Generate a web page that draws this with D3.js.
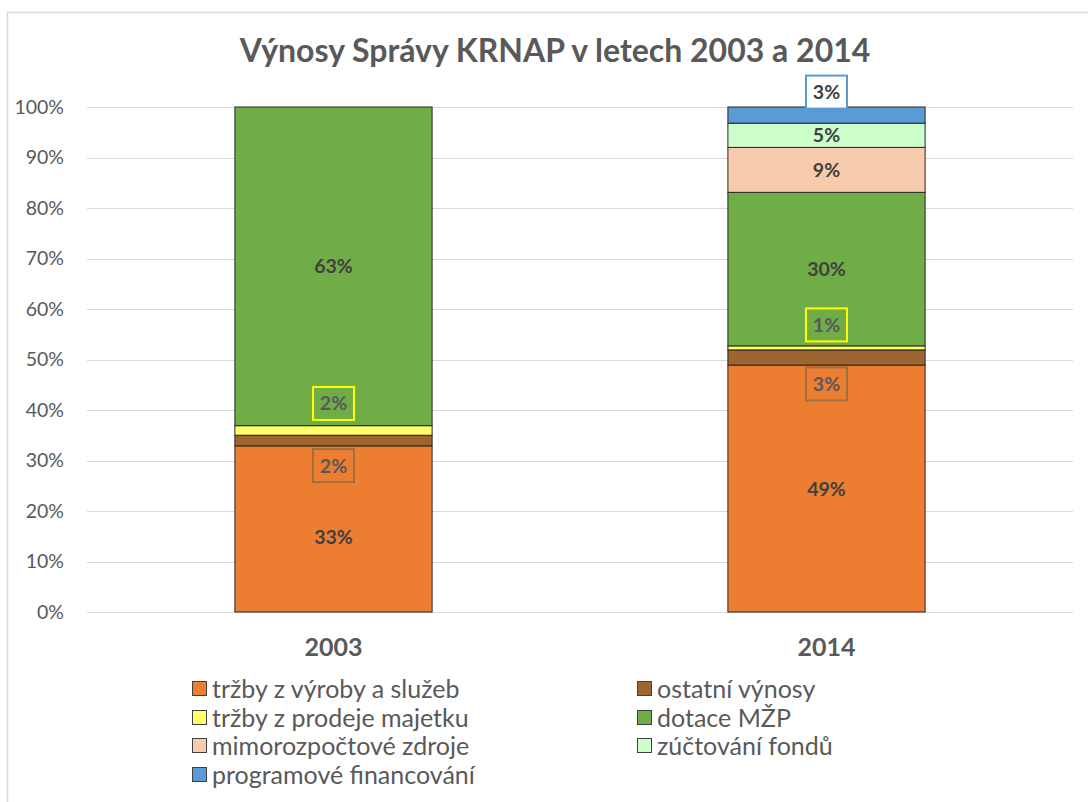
<!DOCTYPE html>
<html>
<head>
<meta charset="utf-8">
<script src="https://cdn.jsdelivr.net/npm/d3@7"></script>
<style>
  html, body { margin: 0; padding: 0; background: #fff; }
  svg { display: block; }
  text { font-family: Lato, "Open Sans", sans-serif; }
</style>
</head>
<body>
<svg id="chart" width="1088" height="802"></svg>
<script>
// ---- data ----
const title = "Výnosy Správy KRNAP v letech 2003 a 2014";
const categories = ["2003", "2014"];
const seriesNames = [
  "tržby z výroby a služeb",
  "ostatní výnosy",
  "tržby z prodeje majetku",
  "dotace MŽP",
  "mimorozpočtové zdroje",
  "zúčtování fondů",
  "programové financování"
];
const seriesColors = ["#ED7D31", "#9C6532", "#FFFF66", "#70AD47", "#F8CBAD", "#CCFFCC", "#5B9BD5"];
const values2003 = [32.9, 2.1, 1.9, 63.1, 0, 0, 0];
const values2014 = [48.9, 3.0, 0.8, 30.4, 8.9, 4.8, 3.2];
const yTicks = [0, 10, 20, 30, 40, 50, 60, 70, 80, 90, 100];

// ---- layout ----
const svg = d3.select("#chart");
const m = { left: 87, right: 1073, top: 107, bottom: 612 };

const x = d3.scaleBand().domain(categories).range([m.left, m.right]).paddingInner(0.6).paddingOuter(0.3);
const y = d3.scaleLinear().domain([0, 100]).range([m.bottom, m.top]);

// outer frame
svg.append("rect").attr("x", 7.5).attr("y", 12.5).attr("width", 1100).attr("height", 820)
  .attr("fill", "none").attr("stroke", "#D9D9D9").attr("stroke-width", 1.5);

// title
svg.append("text").attr("x", 555).attr("y", 62).attr("text-anchor", "middle")
  .attr("font-size", 32).attr("font-weight", "bold").attr("fill", "#595959").text(title);

// gridlines + y axis
const yAxis = d3.axisLeft(y).tickValues(yTicks).tickFormat(d => d + "%").tickSize(0).tickPadding(23);
const yg = svg.append("g").attr("transform", `translate(${m.left},0)`).call(yAxis);
yg.select(".domain").remove();
yg.selectAll("text").attr("font-size", 19.5).attr("fill", "#595959").attr("font-family", "Lato, sans-serif");
svg.append("g").selectAll("line").data(yTicks).join("line")
  .attr("x1", m.left).attr("x2", m.right)
  .attr("y1", d => Math.round(y(d)) + 0.5).attr("y2", d => Math.round(y(d)) + 0.5)
  .attr("stroke", "#D9D9D9").attr("stroke-width", 1);

// x axis labels
const xAxis = d3.axisBottom(x).tickSize(0).tickPadding(26);
const xg = svg.append("g").attr("transform", `translate(0,${m.bottom})`).call(xAxis);
xg.select(".domain").remove();
xg.selectAll("text").attr("font-size", 25).attr("font-weight", "bold").attr("fill", "#595959").attr("font-family", "Lato, sans-serif");

// stacks
const rows = categories.map((c, i) => {
  const vals = i === 0 ? values2003 : values2014;
  const r = { cat: c };
  seriesNames.forEach((s, j) => r[s] = vals[j]);
  return r;
});
const stacked = d3.stack().keys(seriesNames)(rows);

const layers = svg.append("g").selectAll("g").data(stacked).join("g")
  .attr("fill", (d, i) => seriesColors[i]);
layers.selectAll("rect").data(d => d.filter(p => p[1] - p[0] > 0)).join("rect")
  .attr("x", d => x(d.data.cat))
  .attr("width", x.bandwidth())
  .attr("y", d => y(d[1]))
  .attr("height", d => y(d[0]) - y(d[1]))
  .attr("stroke", "#262626").attr("stroke-width", 1);

// data labels; some labels are moved out of thin segments into boxes
const moved = {
  "2003|tržby z výroby a služeb": { dy: 8 },
  "2003|ostatní výnosy": { dy: 25, stroke: "#A0713F", bg: "none" },
  "2003|tržby z prodeje majetku": { dy: -27, stroke: "#FFFF00", bg: "none" },
  "2014|ostatní výnosy": { dy: 26.5, stroke: "#A0713F", bg: "none" },
  "2014|tržby z prodeje majetku": { dy: -23, stroke: "#FFFF00", bg: "none" },
  "2014|programové financování": { dy: -23, stroke: "#5B9BD5", bg: "#FFFFFF" }
};
const lab = svg.append("g");
stacked.forEach((layer, i) => {
  layer.forEach(p => {
    const v = p[1] - p[0];
    if (v <= 0) return;
    const cx = x(p.data.cat) + x.bandwidth() / 2;
    let cy = (y(p[0]) + y(p[1])) / 2;
    const key = p.data.cat + "|" + layer.key;
    const b = moved[key];
    if (b) cy += b.dy;
    if (b && b.stroke) {
      lab.append("rect").attr("x", cx - 20.5).attr("y", cy - 16.5).attr("width", 41).attr("height", 33)
        .attr("fill", b.bg).attr("stroke", b.stroke).attr("stroke-width", 2);
    }
    lab.append("text").attr("x", cx).attr("y", cy).attr("dy", "0.36em").attr("text-anchor", "middle")
      .attr("font-size", 19.5).attr("font-weight", "bold")
      .attr("fill", b && b.bg === "none" ? "#595959" : "#404040")
      .text(Math.round(v) + "%");
  });
});

// legend
const legendCols = [192, 637];
const legendRows = [689, 718, 746, 775];
const lg = svg.append("g");
seriesNames.forEach((s, i) => {
  const col = i % 2, row = Math.floor(i / 2);
  const gx = legendCols[col], gy = legendRows[row];
  lg.append("rect").attr("x", gx + 0.5).attr("y", gy - 7.5).attr("width", 14).attr("height", 14)
    .attr("fill", seriesColors[i]).attr("stroke", "#404040").attr("stroke-width", 1);
  lg.append("text").attr("x", gx + 20).attr("y", gy).attr("dy", "0.35em")
    .attr("font-size", 25).attr("fill", "#595959").text(s);
});
</script>
</body>
</html>
